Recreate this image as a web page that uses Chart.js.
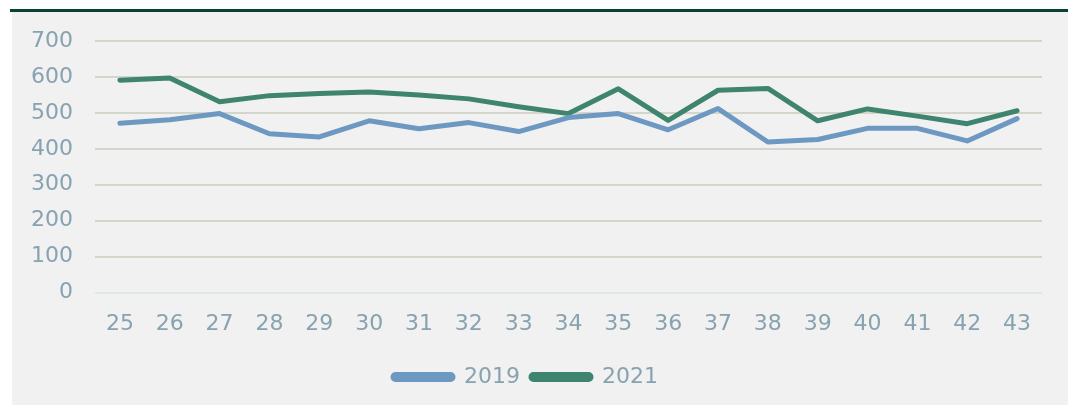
<!DOCTYPE html>
<html>
<head>
<meta charset="utf-8">
<script src="https://cdn.jsdelivr.net/npm/chart.js@4/dist/chart.umd.min.js"></script>
<style>
  body { margin: 0; background: #ffffff; }
  #bar { position: absolute; left: 10px; top: 9px; width: 1058px; height: 3px; background: #0b4037; }
  #panel { position: absolute; left: 12px; top: 12px; width: 1056px; height: 393px; background: #f1f1f1; }
</style>
</head>
<body>
<div id="bar"></div>
<div id="panel"><canvas id="weeksChart" width="1056" height="393"></canvas></div>
<script>
// week numbers on the x axis
const weeks = ['25', '26', '27', '28', '29', '30', '31', '32', '33', '34',
               '35', '36', '37', '38', '39', '40', '41', '42', '43'];

const values2019 = [471, 481, 498, 442, 433, 478, 456, 473, 448, 487,
                    498, 453, 512, 419, 426, 457, 457, 422, 484];
const values2021 = [591, 597, 531, 548, 554, 558, 550, 539, 517, 498,
                    567, 479, 563, 568, 478, 511, 491, 470, 506];

const yTicks = [0, 100, 200, 300, 400, 500, 600, 700];

const textColor = '#87a2b0';
const font = { family: '"DejaVu Sans", Verdana, sans-serif', size: 22 };

window.addEventListener('DOMContentLoaded', () => {
    const ctx = document.getElementById('weeksChart');
    new Chart(ctx, {
        type: 'line',
        data: {
            labels: weeks,
            datasets: [
                {
                    label: '2019',
                    data: values2019,
                    borderColor: '#6c98c2',
                    backgroundColor: '#6c98c2',
                    borderWidth: 5,
                    pointRadius: 0,
                    tension: 0,
                    borderCapStyle: 'round',
                    borderJoinStyle: 'round'
                },
                {
                    label: '2021',
                    data: values2021,
                    borderColor: '#3e846f',
                    backgroundColor: '#3e846f',
                    borderWidth: 5,
                    pointRadius: 0,
                    tension: 0,
                    borderCapStyle: 'round',
                    borderJoinStyle: 'round'
                }
            ]
        },
        options: {
            responsive: false,
            animation: false,
            layout: { autoPadding: false, padding: { left: -3, right: 26, top: 29, bottom: 7 } },
            scales: {
                x: {
                    offset: true,
                    grid: { display: false, drawTicks: false },
                    border: { display: false },
                    ticks: { color: textColor, font: font, padding: 18, maxRotation: 0 }
                },
                y: {
                    min: 0,
                    max: 700,
                    afterBuildTicks: (scale) => { scale.ticks = yTicks.map(v => ({ value: v })); },
                    grid: {
                        drawTicks: false,
                        lineWidth: 2,
                        color: (c) => c.tick && c.tick.value === 0 ? '#dfe6ea' : '#d5d6cb'
                    },
                    border: { display: false },
                    ticks: { color: textColor, font: { ...font, lineHeight: 0.6 }, padding: 22 }
                }
            },
            plugins: {
                legend: {
                    position: 'bottom',
                    labels: {
                        color: textColor,
                        font: font,
                        boxWidth: 60,
                        boxHeight: 5,
                        padding: 11,
                        useBorderRadius: true,
                        borderRadius: 2.5
                    }
                },
                tooltip: { enabled: false }
            }
        }
    });
});
</script>
</body>
</html>
